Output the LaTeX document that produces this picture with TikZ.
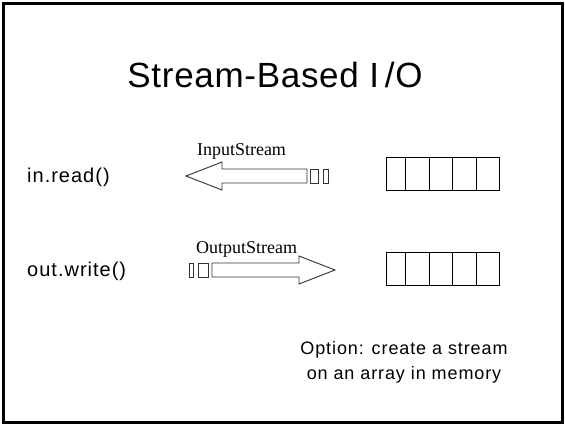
\documentclass[tikz,border=0pt]{standalone}
\usepackage{fontspec}
\setmainfont{Liberation Serif}
\setsansfont{Liberation Sans}
\newfontfamily\wideSans{Liberation Sans}[LetterSpace=5]
\newfontfamily\noteSans{Liberation Sans}[LetterSpace=5]
\newfontfamily\titleSans{Liberation Sans}[LetterSpace=2]
\begin{document}
\begin{tikzpicture}[x=1pt,y=-1pt,
  label/.style={font=\wideSans\fontsize{20}{22}\selectfont, inner sep=0pt},
  streamname/.style={font=\rmfamily\fontsize{18}{20}\selectfont, inner sep=0pt},
  pipe/.style={draw=black!80, line width=0.9pt, line join=miter},
  cell/.style={draw=black, line width=1pt},
  slab/.style={draw=black!80, line width=0.9pt}]
% page and frame
\useasboundingbox (0,0) rectangle (565,424);
\fill[white] (0,0) rectangle (565,424);
\draw[line width=3pt] (3,3) rectangle (562.5,422);

% title
\node[font=\titleSans\fontsize{35}{40}\selectfont, inner sep=0pt, anchor=base]
  (title) at (275,87) {Stream-Based I\,/O};

% left-hand calls
\node[label, anchor=base west] (inread) at (27,182) {in.read()};
\node[label, anchor=base west] (outwrite) at (27,276) {out.write()};

% input stream: arrow pointing left with trailing slabs
\draw[pipe] (186,176) coordinate (intip) -- (222,162) -- (222,169) -- (307,169)
  -- (307,183) -- (222,183) -- (222,190) -- cycle;
\draw[slab] (310.5,169) rectangle (318.5,183);
\draw[slab] (323,169) rectangle (328,183);
\node[streamname, anchor=base] (inlabel) at (241.5,155) {InputStream};

% output stream: slabs then arrow pointing right
\draw[slab] (189,263) rectangle (193.5,277);
\draw[slab] (198,263) rectangle (208,277);
\draw[pipe] (212,263) -- (299,263) -- (299,256) -- (335,270) coordinate (outtip)
  -- (299,284) -- (299,277) -- (212,277) -- cycle;
\node[streamname, anchor=base] (outlabel) at (246.5,253) {OutputStream};

% memory arrays
\foreach \y/\n in {157/inarr, 252/outarr} {
  \draw[cell] (386,\y) rectangle (499,\y+33);
  \foreach \x in {405,429,452,476}
    \draw[cell] (\x,\y) -- (\x,\y+33);
}

% note
\node[inner sep=0pt, align=center, anchor=north, font=\noteSans\fontsize{18}{25}\selectfont]
  (note) at (404,341) {Option: create a stream\\on an array in memory};
\end{tikzpicture}
\end{document}
